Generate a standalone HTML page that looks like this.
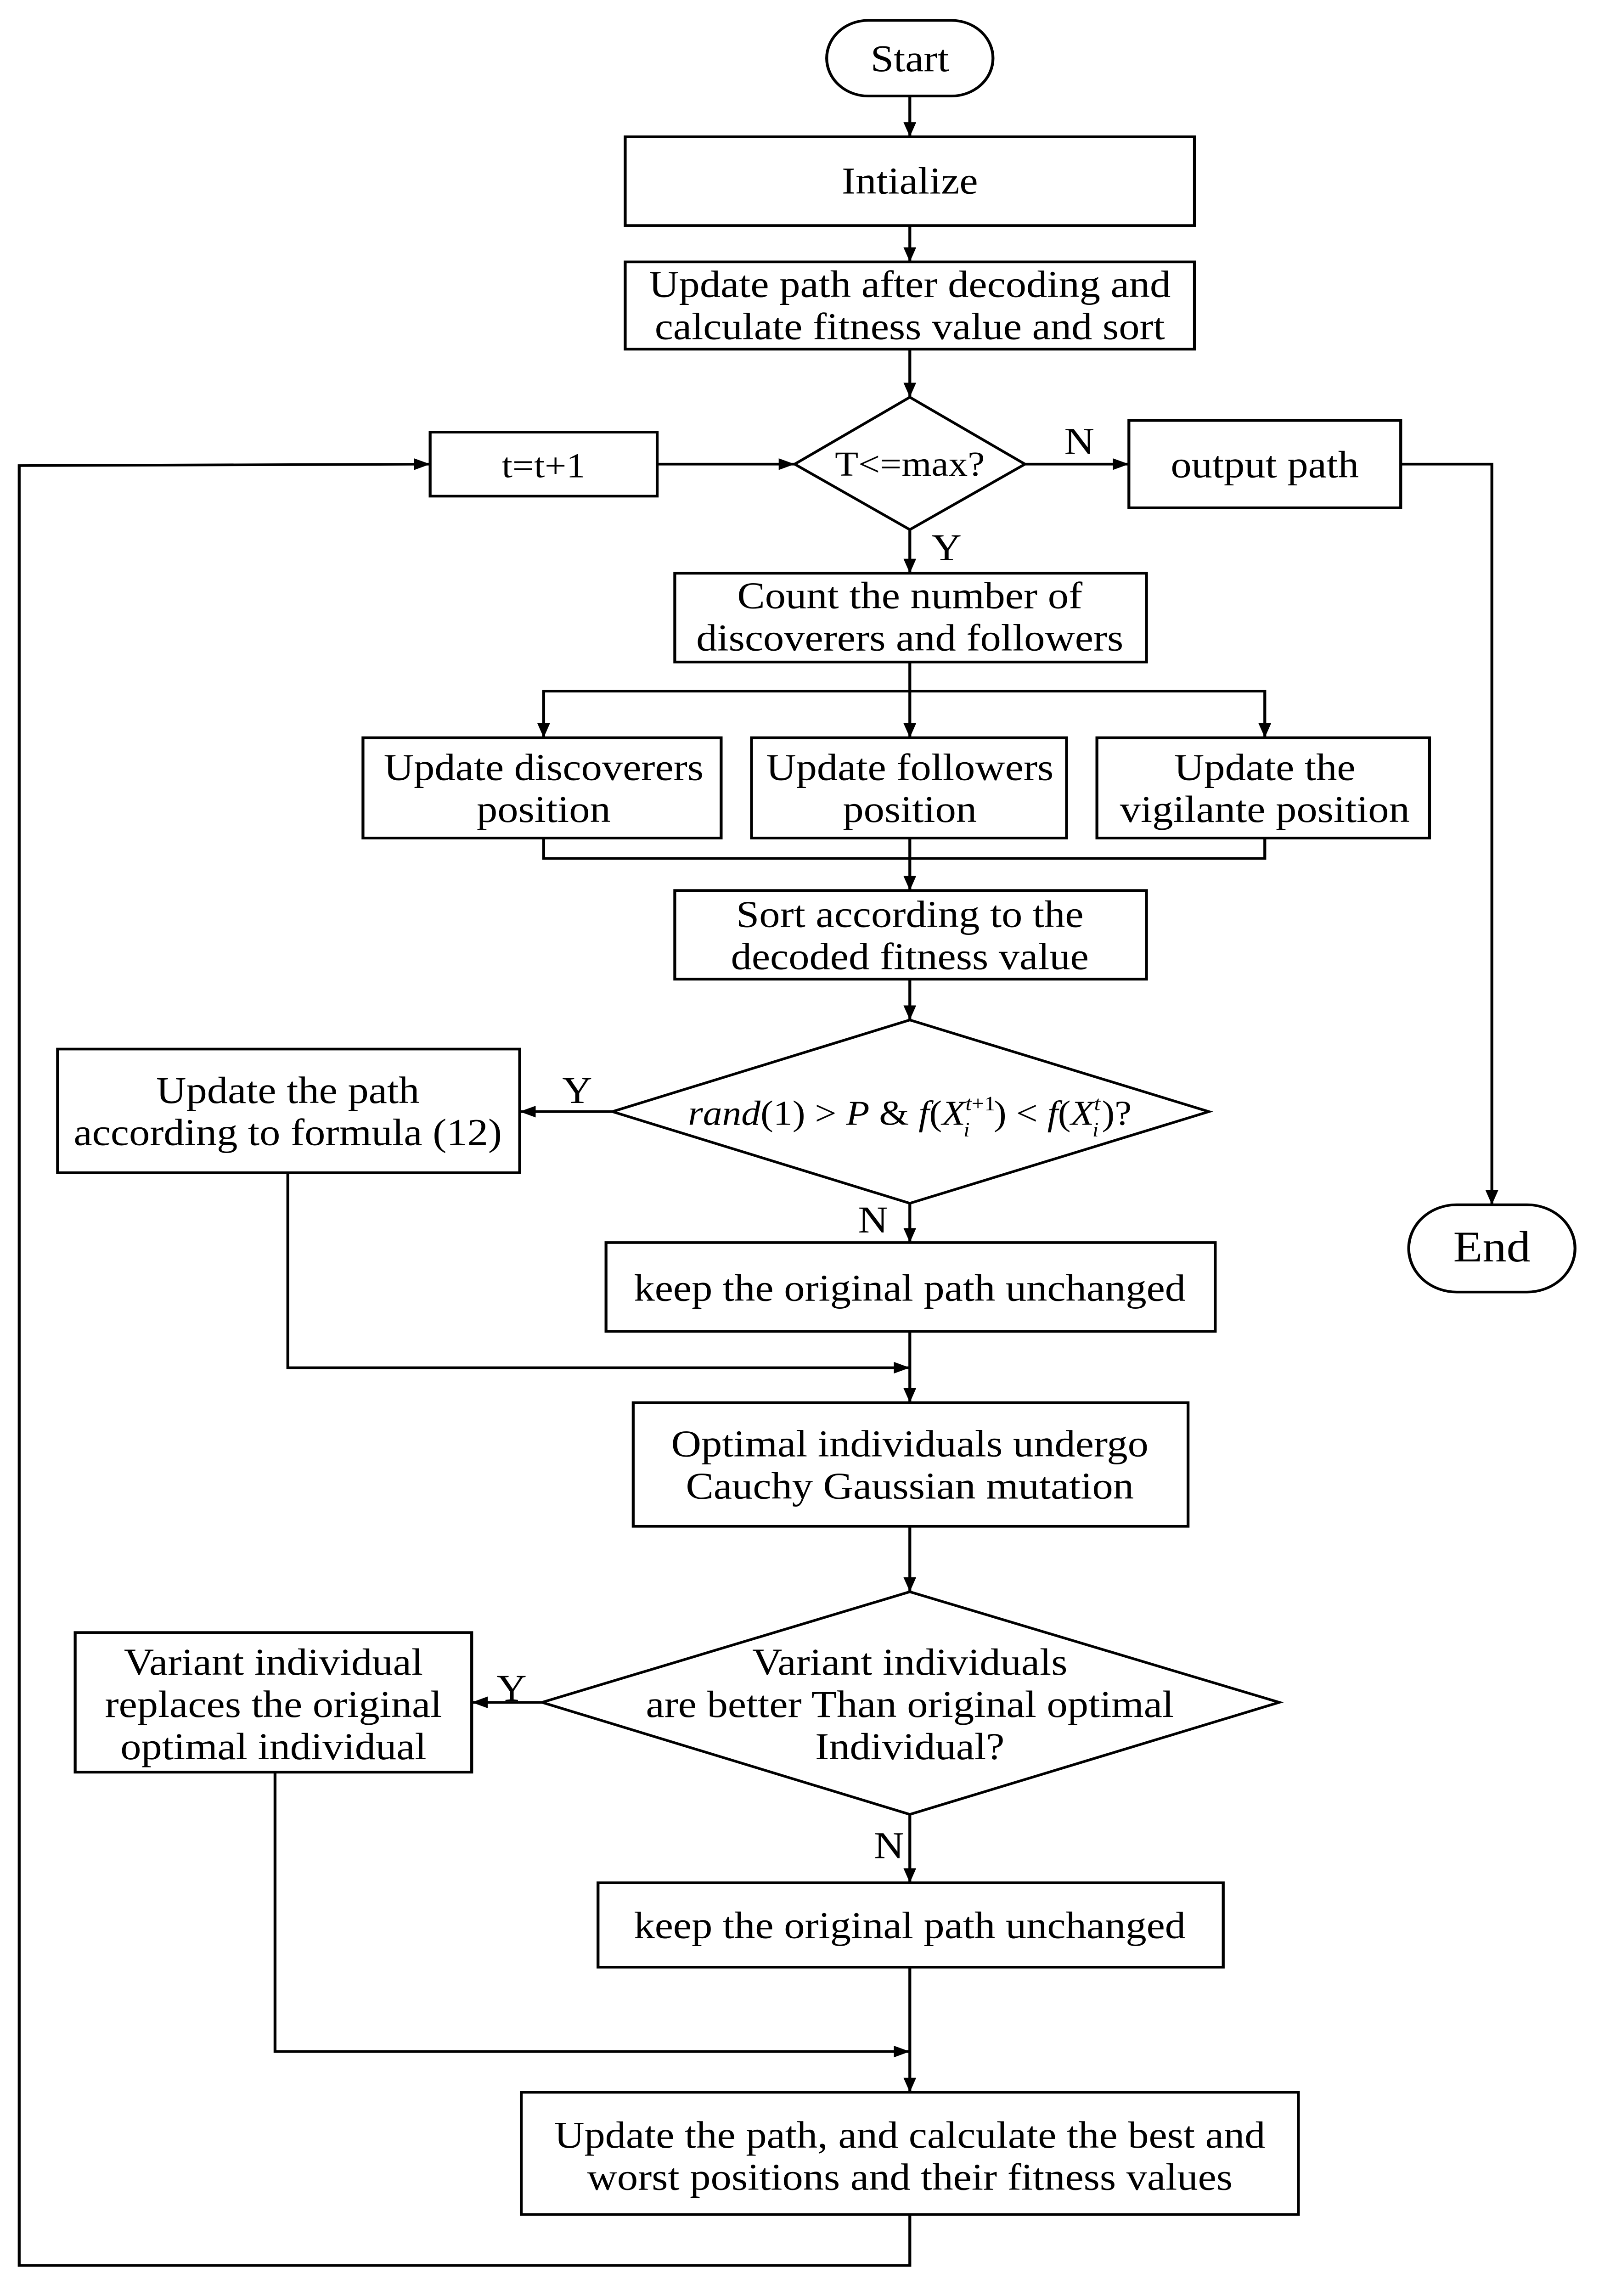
<!DOCTYPE html>
<html><head><meta charset="utf-8"><style>html,body{margin:0;padding:0;background:#fff;width:100%;height:100%;overflow:hidden}svg{display:block;position:fixed;left:0;top:0;width:100vw;height:100vh}</style></head>
<body>
<svg width="3482" height="5495" viewBox="0 0 1000 1578" preserveAspectRatio="none" xmlns="http://www.w3.org/2000/svg" font-family="Liberation Serif, serif" font-size="26" text-anchor="middle">
<defs><marker id="a" markerWidth="10" markerHeight="8" refX="10" refY="4" orient="auto" markerUnits="userSpaceOnUse"><path d="M0,0 L10,4 L0,8 Z" fill="#000"/></marker></defs>
<g fill="none" stroke="#000" stroke-width="1.8">
<rect x="517" y="14" width="104" height="52" rx="26"/>
<rect x="391" y="94" width="356" height="61"/>
<rect x="391" y="180" width="356" height="60"/>
<polygon points="569,273 641,319 569,364 497,319"/>
<rect x="269" y="297" width="142" height="44"/>
<rect x="706" y="289" width="170" height="60"/>
<rect x="881" y="828" width="104" height="60" rx="30"/>
<rect x="422" y="394" width="295" height="61"/>
<rect x="227" y="507" width="224" height="69"/>
<rect x="470" y="507" width="197" height="69"/>
<rect x="686" y="507" width="208" height="69"/>
<rect x="422" y="612" width="295" height="61"/>
<polygon points="569,701 756,764 569,827 383,764"/>
<rect x="36" y="721" width="289" height="85"/>
<rect x="379" y="854" width="381" height="61"/>
<rect x="396" y="964" width="347" height="85"/>
<polygon points="569,1094 800,1170 569,1247 339,1170"/>
<rect x="47" y="1122" width="248" height="96"/>
<rect x="374" y="1294" width="391" height="58"/>
<rect x="326" y="1438" width="486" height="84"/>
</g>
<g fill="none" stroke="#000" stroke-width="1.8">
<line x1="569" y1="66" x2="569" y2="94" marker-end="url(#a)"/>
<line x1="569" y1="155" x2="569" y2="180" marker-end="url(#a)"/>
<line x1="569" y1="240" x2="569" y2="273" marker-end="url(#a)"/>
<line x1="411" y1="319" x2="497" y2="319" marker-end="url(#a)"/>
<line x1="641" y1="319" x2="706" y2="319" marker-end="url(#a)"/>
<polyline points="876,319 933,319 933,828" marker-end="url(#a)"/>
<line x1="569" y1="364" x2="569" y2="394" marker-end="url(#a)"/>
<line x1="569" y1="455" x2="569" y2="507" marker-end="url(#a)"/>
<polyline points="340,507 340,475 791,475 791,507" marker-end="url(#a)"/>
<line x1="340" y1="475" x2="340" y2="507" marker-end="url(#a)"/>
<polyline points="340,576 340,590 791,590 791,576"/>
<line x1="569" y1="576" x2="569" y2="612" marker-end="url(#a)"/>
<line x1="569" y1="673" x2="569" y2="701" marker-end="url(#a)"/>
<line x1="383" y1="764" x2="325" y2="764" marker-end="url(#a)"/>
<line x1="569" y1="827" x2="569" y2="854" marker-end="url(#a)"/>
<polyline points="180,806 180,940 569,940" marker-end="url(#a)"/>
<line x1="569" y1="915" x2="569" y2="964" marker-end="url(#a)"/>
<line x1="569" y1="1049" x2="569" y2="1094" marker-end="url(#a)"/>
<line x1="339" y1="1170" x2="295" y2="1170" marker-end="url(#a)"/>
<line x1="569" y1="1247" x2="569" y2="1294" marker-end="url(#a)"/>
<polyline points="172,1218 172,1410 569,1410" marker-end="url(#a)"/>
<line x1="569" y1="1352" x2="569" y2="1438" marker-end="url(#a)"/>
<polyline points="569,1522 569,1557 12,1557 12,320 269,319" marker-end="url(#a)"/>
</g>
<g fill="#000">
<text x="569" y="49">Start</text>
<text x="569" y="133">Intialize</text>
<text x="569" y="204">Update path after decoding and</text>
<text x="569" y="233">calculate fitness value and sort</text>
<text x="569" y="327" font-size="24">T&lt;=max?</text>
<text x="340" y="328" font-size="24">t=t+1</text>
<text x="791" y="328">output path</text>
<text x="675" y="312">N</text>
<text x="592" y="385">Y</text>
<text x="933" y="867" font-size="30">End</text>
<text x="569" y="418">Count the number of</text>
<text x="569" y="447">discoverers and followers</text>
<text x="340" y="536">Update discoverers</text>
<text x="340" y="565">position</text>
<text x="569" y="536">Update followers</text>
<text x="569" y="565">position</text>
<text x="791" y="536">Update the</text>
<text x="791" y="565">vigilante position</text>
<text x="569" y="637">Sort according to the</text>
<text x="569" y="666">decoded fitness value</text>
<text x="569" y="773" font-size="24"><tspan font-style="italic">rand</tspan>(1) &gt; <tspan font-style="italic">P</tspan> &amp; <tspan font-style="italic">f</tspan>(<tspan font-style="italic">X</tspan><tspan font-style="italic" font-size="14" dy="-10">t</tspan><tspan font-size="14">+1</tspan><tspan font-style="italic" font-size="14" dx="-20" dy="18">i</tspan><tspan dx="15" dy="-8">) &lt; </tspan><tspan font-style="italic">f</tspan>(<tspan font-style="italic">X</tspan><tspan font-style="italic" font-size="14" dy="-10">t</tspan><tspan font-style="italic" font-size="14" dx="-5" dy="18">i</tspan><tspan dx="2" dy="-8">)?</tspan></text>
<text x="180" y="758">Update the path</text>
<text x="180" y="787">according to formula (12)</text>
<text x="361" y="758">Y</text>
<text x="546" y="847">N</text>
<text x="569" y="894">keep the original path unchanged</text>
<text x="569" y="1001">Optimal individuals undergo</text>
<text x="569" y="1030">Cauchy Gaussian mutation</text>
<text x="569" y="1151">Variant individuals</text>
<text x="569" y="1180">are better Than original optimal</text>
<text x="569" y="1209">Individual?</text>
<text x="171" y="1151">Variant individual</text>
<text x="171" y="1180">replaces the original</text>
<text x="171" y="1209">optimal individual</text>
<text x="320" y="1169">Y</text>
<text x="556" y="1277">N</text>
<text x="569" y="1332">keep the original path unchanged</text>
<text x="569" y="1476">Update the path, and calculate the best and</text>
<text x="569" y="1505">worst positions and their fitness values</text>
</g>
</svg>
</body></html>
